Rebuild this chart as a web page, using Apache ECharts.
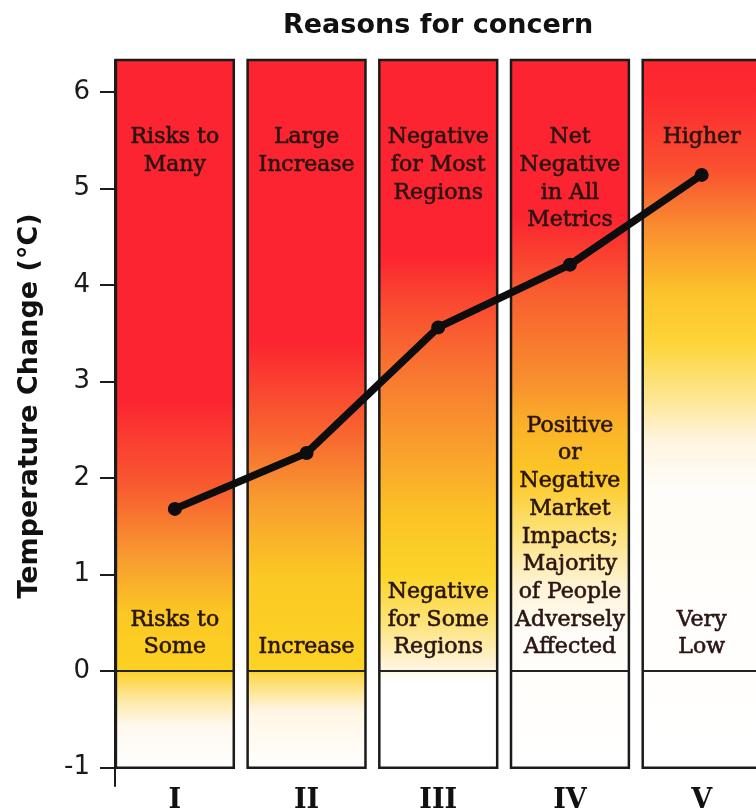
<!DOCTYPE html>
<html><head><meta charset="utf-8">
<script src="https://cdn.jsdelivr.net/npm/echarts@6/dist/echarts.min.js"></script>
<style>html,body{margin:0;padding:0;background:#fff}#c{width:756px;height:812px}</style>
</head><body><div id="c"></div>
<script>
// ---- data ----
const categories = ['I', 'II', 'III', 'IV', 'V'];
const tempChange = [1.68, 2.26, 3.56, 4.21, 5.14];
const topLabels = ['Risks to\nMany', 'Large\nIncrease', 'Negative\nfor Most\nRegions', 'Net\nNegative\nin All\nMetrics', 'Higher'];
const bottomLabels = ['Risks to\nSome', 'Increase', 'Negative\nfor Some\nRegions',
  'Positive\nor\nNegative\nMarket\nImpacts;\nMajority\nof People\nAdversely\nAffected', 'Very\nLow'];
const yTicks = [-1, 0, 1, 2, 3, 4, 5, 6];
const titleText = 'Reasons for concern';
const yName = 'Temperature Change (°C)';

// ---- styles ----
const colTop = 6.33, colBottom = -1;
const topAnchor = 5.67, bottomAnchor = 0.1;
const RED = '#fc2430';
const gradients = [
  [[6.33, RED], [2.8, RED], [1.9, '#f85c30'], [1.2, '#f89a30'], [0.6, '#fbc824'], [0, '#fcd222'], [-0.03, '#fcd43a'], [-0.3, '#fde9a8'], [-0.55, '#fff8ee'], [-1, '#ffffff']],
  [[6.33, RED], [3.4, RED], [2.4, '#f86a30'], [1.8, '#f89a30'], [1.0, '#fbc824'], [0, '#fcd424'], [-0.03, '#fcd850'], [-0.4, '#fff6e4'], [-1, '#ffffff']],
  [[6.33, RED], [4.3, RED], [3.8, '#fa4a30'], [3.0, '#f87c30'], [2.3, '#f9a02c'], [1.6, '#fbc426'], [1.0, '#fcd428'], [0.5, '#fde37a'], [0.05, '#fff4dc'], [-0.1, '#ffffff'], [-1, '#ffffff']],
  [[6.33, RED], [4.7, RED], [3.9, '#f85e30'], [3.0, '#f8902e'], [2.5, '#fbb428'], [2.0, '#fcc826'], [1.5, '#fde070'], [0.9, '#fff3d4'], [0.4, '#fffdf8'], [-1, '#ffffff']],
  [[6.33, RED], [5.9, '#fc2c30'], [5.2, '#fa5030'], [4.6, '#f98c30'], [3.9, '#fcc42a'], [3.4, '#fdd438'], [2.8, '#fde796'], [2.4, '#fff4de'], [1.9, '#fffdf9'], [-1, '#ffffff']]
];
const labelFont = { fontFamily: 'DejaVu Serif', fontSize: 22, lineHeight: 27.7, fill: '#2a1512',
  stroke: '#2a1512', lineWidth: 0.6, align: 'center' };

function renderColumn(params, api) {
  const i = api.value(0);
  const band = api.size([1, 0])[0];
  const w = band * 0.895;
  const t = api.coord([i, colTop]);
  const b = api.coord([i, colBottom]);
  const z0 = api.coord([i, 0]);
  const x0 = t[0] - w / 2;
  const stops = gradients[i].map(function (s) {
    return { offset: (colTop - s[0]) / (colTop - colBottom), color: s[1] };
  });
  return {
    type: 'group',
    children: [
      { type: 'rect', shape: { x: x0, y: t[1], width: w, height: b[1] - t[1] },
        style: { fill: new echarts.graphic.LinearGradient(0, 0, 0, 1, stops), stroke: '#1b1b1b', lineWidth: 2.5 } },
      { type: 'line', shape: { x1: x0, y1: z0[1], x2: x0 + w, y2: z0[1] },
        style: { stroke: '#222', lineWidth: 2 } },
      { type: 'text', x: t[0], y: api.coord([i, topAnchor])[1],
        style: Object.assign({ text: topLabels[i], verticalAlign: 'top' }, labelFont) },
      { type: 'text', x: t[0], y: api.coord([i, bottomAnchor])[1],
        style: Object.assign({ text: bottomLabels[i], verticalAlign: 'bottom' }, labelFont) }
    ]
  };
}

const chart = echarts.init(document.getElementById('c'), null, { renderer: 'canvas' });
chart.setOption({
  animation: false,
  backgroundColor: '#ffffff',
  title: {
    text: titleText, left: 283, top: 12, padding: 0,
    textStyle: { fontFamily: 'DejaVu Sans', fontWeight: 'bold', fontSize: 27, color: '#111' }
  },
  grid: { left: 109, right: -11.5, top: 60, bottom: 26, outerBoundsMode: 'none' },
  xAxis: {
    type: 'category', data: categories, boundaryGap: true,
    axisLine: { show: false }, axisTick: { show: false },
    axisLabel: { fontFamily: 'DejaVu Serif', fontWeight: 'bold', fontSize: 27, color: '#111', margin: 1 }
  },
  yAxis: {
    type: 'value', min: -1.19, max: 6.33, offset: -6,
    name: yName, nameLocation: 'middle', nameGap: 72,
    nameTextStyle: { fontFamily: 'DejaVu Sans', fontWeight: 'bold', fontSize: 27, color: '#111', padding: [0, 0, 0, 34] },
    axisLine: { show: true, lineStyle: { color: '#1b1b1b', width: 2 } },
    axisTick: { show: true, length: 15, customValues: yTicks, lineStyle: { color: '#1b1b1b', width: 2 } },
    axisLabel: { customValues: yTicks, fontFamily: 'DejaVu Sans', fontSize: 26, color: '#1a1a1a', margin: 25 },
    splitLine: { show: false }
  },
  series: [
    { type: 'custom', renderItem: renderColumn, data: categories.map(function (c, i) { return [i]; }),
      encode: { x: 0 }, clip: false, z: 1, silent: true },
    { type: 'line', data: tempChange, z: 5,
      lineStyle: { color: '#0d0d0d', width: 7.5 }, itemStyle: { color: '#0d0d0d' },
      symbol: 'circle', symbolSize: 14, showSymbol: true }
  ]
});
</script>
</body></html>
